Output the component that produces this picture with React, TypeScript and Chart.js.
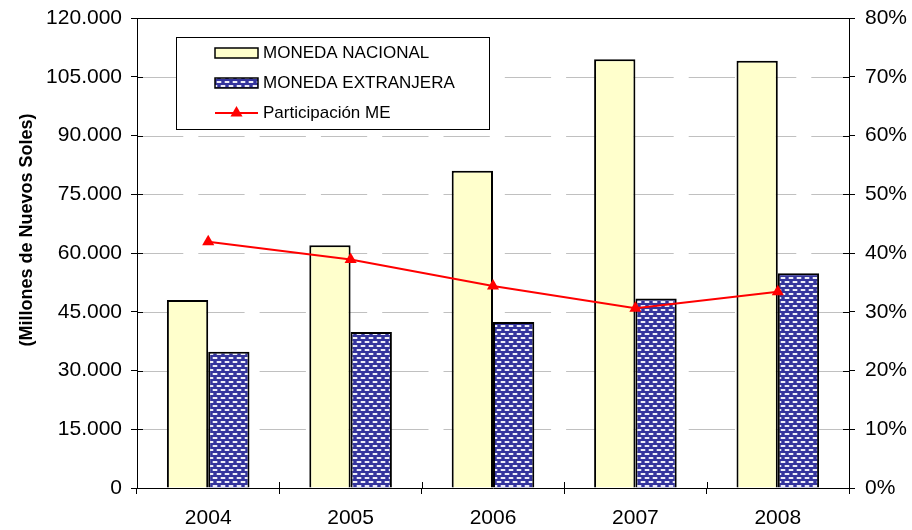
import React, { useEffect, useRef } from "react";
import { Chart, registerables } from "chart.js";

Chart.register(...registerables);

const years = ["2004", "2005", "2006", "2007", "2008"];
const monedaNacional = [48000, 62000, 81000, 109500, 109100];
const monedaExtranjera = [34800, 39800, 42400, 48400, 54800];
const participacionME = [41.9, 38.9, 34.4, 30.6, 33.4];

const legendLabels = ["MONEDA NACIONAL", "MONEDA EXTRANJERA", "Participación ME"];
const yAxisTitle = "(Millones de Nuevos Soles)";

const FONT = "'Liberation Sans', Arial, sans-serif";

function fmtThousands(v: number): string {
  if (v === 0) return "0";
  return String(v).replace(/\B(?=(\d{3})+(?!\d))/g, ".");
}

function makePattern(): CanvasPattern | string {
  const c = document.createElement("canvas");
  c.width = 8;
  c.height = 8;
  const g = c.getContext("2d");
  if (!g) return "#333399";
  g.fillStyle = "#34349c";
  g.fillRect(0, 0, 8, 8);
  g.fillStyle = "#6a6ab6";
  g.fillRect(0, 1, 6, 2);
  g.fillRect(4, 5, 4, 2);
  g.fillRect(0, 5, 2, 2);
  g.fillStyle = "#eeeef8";
  g.fillRect(1, 1, 4, 2);
  g.fillRect(5, 5, 3, 2);
  g.fillRect(0, 5, 1, 2);
  const p = g.createPattern(c, "repeat");
  return p || "#333399";
}

export default function App() {
  const ref = useRef<HTMLCanvasElement | null>(null);

  useEffect(() => {
    if (!ref.current) return;
    const pattern = makePattern();

    const gridPlugin = {
      id: "dashGrid",
      beforeDatasetsDraw(chart: any) {
        const { ctx, chartArea, scales } = chart;
        const { left, right } = chartArea;
        ctx.save();
        ctx.strokeStyle = "#c0c0c0";
        ctx.lineWidth = 1;
        ctx.setLineDash([46.3, 15]);
        ctx.lineDashOffset = 0;
        scales.y.ticks.forEach((t: any) => {
          if (t.value === 0 || t.value === scales.y.max) return;
          const py = Math.round(scales.y.getPixelForValue(t.value)) + 0.5;
          ctx.beginPath();
          ctx.moveTo(left, py);
          ctx.lineTo(right, py);
          ctx.stroke();
        });
        ctx.restore();
      },
    };

    const decor = {
      id: "decor",
      afterDraw(chart: any) {
        const { ctx, chartArea, scales } = chart;
        const { left, right, top, bottom } = chartArea;
        ctx.save();
        ctx.strokeStyle = "#000";
        ctx.lineWidth = 1;
        ctx.beginPath();
        const ty = Math.round(top) + 0.5;
        ctx.moveTo(left, ty);
        ctx.lineTo(right, ty);
        scales.y.ticks.forEach((t: any) => {
          const py = Math.round(scales.y.getPixelForValue(t.value)) + 0.5;
          ctx.moveTo(left, py);
          ctx.lineTo(left + 6, py);
        });
        scales.y1.ticks.forEach((t: any) => {
          const py = Math.round(scales.y1.getPixelForValue(t.value)) + 0.5;
          ctx.moveTo(right - 6, py);
          ctx.lineTo(right, py);
        });
        const n = years.length;
        const xs = scales.x;
        for (let i = 1; i < n; i++) {
          const px = Math.round(xs.left + (i * (xs.right - xs.left)) / n) + 0.5;
          ctx.moveTo(px, bottom - 6);
          ctx.lineTo(px, bottom);
        }
        ctx.stroke();

        // y axis title
        ctx.save();
        ctx.translate(27.5, 230);
        ctx.rotate(-Math.PI / 2);
        ctx.fillStyle = "#000";
        ctx.font = `bold 18px ${FONT}`;
        ctx.textAlign = "center";
        ctx.textBaseline = "middle";
        ctx.fillText(yAxisTitle, 0, 0);
        ctx.restore();

        // legend
        const lx = 176;
        const ly = 37;
        const lw = 313;
        const lh = 92;
        ctx.fillStyle = "#fff";
        ctx.fillRect(lx, ly, lw, lh);
        ctx.strokeStyle = "#000";
        ctx.lineWidth = 1;
        ctx.strokeRect(lx + 0.5, ly + 0.5, lw, lh);

        const sx = lx + 39;
        const sw = 43;
        const rows = [ly + 16, ly + 46, ly + 76];
        ctx.fillStyle = "#FFFFCC";
        ctx.fillRect(sx, rows[0] - 5, sw, 10);
        ctx.lineWidth = 1.5;
        ctx.strokeRect(sx, rows[0] - 5, sw, 10);
        ctx.fillStyle = pattern as any;
        ctx.fillRect(sx, rows[1] - 5, sw, 10);
        ctx.strokeRect(sx, rows[1] - 5, sw, 10);
        ctx.strokeStyle = "#FF0000";
        ctx.lineWidth = 2;
        ctx.beginPath();
        ctx.moveTo(sx, rows[2]);
        ctx.lineTo(sx + sw, rows[2]);
        ctx.stroke();
        ctx.fillStyle = "#FF0000";
        const cx = sx + sw / 2;
        const r = 7;
        ctx.beginPath();
        ctx.moveTo(cx, rows[2] - r);
        ctx.lineTo(cx + r * 0.866, rows[2] + r / 2);
        ctx.lineTo(cx - r * 0.866, rows[2] + r / 2);
        ctx.closePath();
        ctx.fill();

        ctx.fillStyle = "#000";
        ctx.font = `17px ${FONT}`;
        ctx.textAlign = "left";
        ctx.textBaseline = "middle";
        legendLabels.forEach((lab, i) => {
          ctx.fillText(lab, sx + sw + 5, rows[i] + 0.5);
        });
        ctx.restore();
      },
    };

    const tickFont = { family: FONT, size: 21 };

    const chart = new Chart(ref.current, {
      type: "bar",
      data: {
        labels: years,
        datasets: [
          {
            type: "line",
            label: legendLabels[2],
            data: participacionME,
            yAxisID: "y1",
            borderColor: "#FF0000",
            backgroundColor: "#FF0000",
            borderWidth: 2,
            pointStyle: "triangle",
            pointRadius: 7,
            pointBackgroundColor: "#FF0000",
            pointBorderColor: "#FF0000",
            pointBorderWidth: 0,
            tension: 0,
            order: 0,
          } as any,
          {
            type: "bar",
            label: legendLabels[0],
            data: monedaNacional,
            yAxisID: "y",
            backgroundColor: "#FFFFCC",
            borderColor: "#000",
            borderWidth: 2,
            categoryPercentage: 0.58,
            barPercentage: 1.0,
            order: 1,
          },
          {
            type: "bar",
            label: legendLabels[1],
            data: monedaExtranjera,
            yAxisID: "y",
            backgroundColor: pattern as any,
            borderColor: "#000",
            borderWidth: 2,
            categoryPercentage: 0.58,
            barPercentage: 1.0,
            order: 2,
          },
        ],
      },
      options: {
        responsive: false,
        animation: false,
        devicePixelRatio: 1,
        layout: { padding: { top: 18, left: 0, right: 0, bottom: 0 } },
        plugins: {
          legend: { display: false },
          tooltip: { enabled: false },
          title: { display: false },
        },
        scales: {
          x: {
            grid: {
              display: true,
              drawOnChartArea: false,
              drawTicks: true,
              tickLength: 6,
              tickColor: "#000",
              offset: true,
            },
            border: { display: true, color: "#000", width: 1 },
            ticks: {
              font: tickFont,
              color: "#000",
              padding: 12,
              maxRotation: 0,
              autoSkip: false,
            },
            afterFit(scale: any) {
              scale.height = 42;
              scale.paddingLeft = 0;
              scale.paddingRight = 0;
            },
          },
          y: {
            position: "left",
            min: 0,
            max: 120000,
            grid: {
              drawOnChartArea: false,
              lineWidth: 1,
              drawTicks: true,
              tickLength: 6,
              tickColor: "#000",
            },
            border: { display: true, color: "#000", width: 1 },
            ticks: {
              stepSize: 15000,
              font: tickFont,
              color: "#000",
              padding: 9,
              callback: (v: any) => fmtThousands(Number(v)),
            },
            afterFit(scale: any) {
              scale.width = 137;
              scale.paddingTop = 0;
              scale.paddingBottom = 0;
            },
          },
          y1: {
            position: "right",
            min: 0,
            max: 80,
            grid: {
              drawOnChartArea: false,
              drawTicks: true,
              tickLength: 6,
              tickColor: "#000",
            },
            border: { display: true, color: "#000", width: 1 },
            ticks: {
              stepSize: 10,
              font: tickFont,
              color: "#000",
              padding: 10,
              callback: (v: any) => `${v}%`,
            },
            afterFit(scale: any) {
              scale.width = 63;
              scale.paddingTop = 0;
              scale.paddingBottom = 0;
            },
          },
        },
      },
      plugins: [gridPlugin, decor],
    });

    return () => chart.destroy();
  }, []);

  return (
    <div style={{ position: "absolute", left: 0, top: 0, width: 912, height: 530, background: "#fff" }}>
      <canvas ref={ref} width={912} height={530} style={{ display: "block" }} />
    </div>
  );
}
